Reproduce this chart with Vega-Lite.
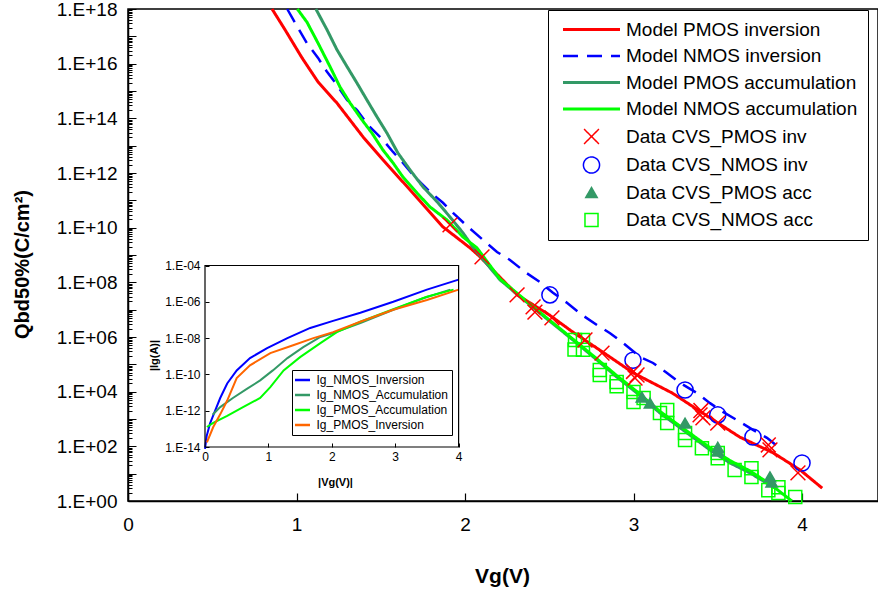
{
  "$schema": "https://vega.github.io/schema/vega-lite/v6.json",
  "width": 750,
  "height": 492,
  "autosize": "none",
  "padding": {"left": 128, "top": 9, "right": 0, "bottom": 90},
  "background": "white",
  "config": {
    "font": "Liberation Sans",
    "view": {"stroke": "black", "strokeWidth": 1.5},
    "axis": {"labelFont": "Liberation Sans", "titleFont": "Liberation Sans", "labelColor": "black", "titleColor": "black", "tickColor": "black", "domainColor": "black", "grid": false},
    "legend": {"labelFont": "Liberation Sans", "labelColor": "black", "strokeColor": "black", "fillColor": "white", "labelLimit": 400}
  },
  "datasets": {
    "models": [
      {"series": "Model PMOS inversion", "vg": 0.855, "q": 1e18},
      {"series": "Model PMOS inversion", "vg": 0.932, "q": 1.74e17},
      {"series": "Model PMOS inversion", "vg": 1.033, "q": 1.62e16},
      {"series": "Model PMOS inversion", "vg": 1.128, "q": 2.14e15},
      {"series": "Model PMOS inversion", "vg": 1.24, "q": 3.63e14},
      {"series": "Model PMOS inversion", "vg": 1.395, "q": 2.09e13},
      {"series": "Model PMOS inversion", "vg": 1.513, "q": 3.02e12},
      {"series": "Model PMOS inversion", "vg": 1.674, "q": 2.4e11},
      {"series": "Model PMOS inversion", "vg": 1.869, "q": 1.07e10},
      {"series": "Model PMOS inversion", "vg": 2.03, "q": 1.82e9},
      {"series": "Model PMOS inversion", "vg": 2.09, "q": 8.51e8},
      {"series": "Model PMOS inversion", "vg": 2.31, "q": 3.47e7},
      {"series": "Model PMOS inversion", "vg": 2.5, "q": 6.46e6},
      {"series": "Model PMOS inversion", "vg": 2.64, "q": 1.51e6},
      {"series": "Model PMOS inversion", "vg": 2.8, "q": 3.31e5},
      {"series": "Model PMOS inversion", "vg": 3.0, "q": 4.79e4},
      {"series": "Model PMOS inversion", "vg": 3.23, "q": 8.91e3},
      {"series": "Model PMOS inversion", "vg": 3.41, "q": 1.66e3},
      {"series": "Model PMOS inversion", "vg": 3.63, "q": 219},
      {"series": "Model PMOS inversion", "vg": 3.83, "q": 57.5},
      {"series": "Model PMOS inversion", "vg": 3.99, "q": 13.5},
      {"series": "Model PMOS inversion", "vg": 4.12, "q": 2.95},

      {"series": "Model NMOS inversion", "vg": 0.945, "q": 1e18},
      {"series": "Model NMOS inversion", "vg": 1.009, "q": 2.04e17},
      {"series": "Model NMOS inversion", "vg": 1.062, "q": 5.62e16},
      {"series": "Model NMOS inversion", "vg": 1.128, "q": 1.62e16},
      {"series": "Model NMOS inversion", "vg": 1.181, "q": 5.01e15},
      {"series": "Model NMOS inversion", "vg": 1.24, "q": 1.66e15},
      {"series": "Model NMOS inversion", "vg": 1.3, "q": 4.68e14},
      {"series": "Model NMOS inversion", "vg": 1.359, "q": 2.0e14},
      {"series": "Model NMOS inversion", "vg": 1.424, "q": 5.75e13},
      {"series": "Model NMOS inversion", "vg": 1.513, "q": 1.62e13},
      {"series": "Model NMOS inversion", "vg": 1.573, "q": 5.89e12},
      {"series": "Model NMOS inversion", "vg": 1.632, "q": 2.34e12},
      {"series": "Model NMOS inversion", "vg": 1.703, "q": 7.08e11},
      {"series": "Model NMOS inversion", "vg": 1.792, "q": 2.04e11},
      {"series": "Model NMOS inversion", "vg": 1.869, "q": 8.13e10},
      {"series": "Model NMOS inversion", "vg": 1.929, "q": 3.47e10},
      {"series": "Model NMOS inversion", "vg": 2.018, "q": 1.07e10},
      {"series": "Model NMOS inversion", "vg": 2.107, "q": 3.55e9},
      {"series": "Model NMOS inversion", "vg": 2.19, "q": 1.29e9},
      {"series": "Model NMOS inversion", "vg": 2.267, "q": 6.61e8},
      {"series": "Model NMOS inversion", "vg": 2.356, "q": 2.4e8},
      {"series": "Model NMOS inversion", "vg": 2.445, "q": 1.02e8},
      {"series": "Model NMOS inversion", "vg": 2.522, "q": 4.17e7},
      {"series": "Model NMOS inversion", "vg": 2.605, "q": 1.78e7},
      {"series": "Model NMOS inversion", "vg": 2.694, "q": 6.46e6},
      {"series": "Model NMOS inversion", "vg": 2.783, "q": 2.75e6},
      {"series": "Model NMOS inversion", "vg": 2.861, "q": 1.38e6},
      {"series": "Model NMOS inversion", "vg": 2.938, "q": 6.03e5},
      {"series": "Model NMOS inversion", "vg": 3.039, "q": 1.86e5},
      {"series": "Model NMOS inversion", "vg": 3.116, "q": 1.12e5},
      {"series": "Model NMOS inversion", "vg": 3.199, "q": 4.79e4},
      {"series": "Model NMOS inversion", "vg": 3.276, "q": 2.09e4},
      {"series": "Model NMOS inversion", "vg": 3.377, "q": 8.91e3},
      {"series": "Model NMOS inversion", "vg": 3.454, "q": 3.8e3},
      {"series": "Model NMOS inversion", "vg": 3.531, "q": 1.82e3},
      {"series": "Model NMOS inversion", "vg": 3.614, "q": 912},
      {"series": "Model NMOS inversion", "vg": 3.709, "q": 398},
      {"series": "Model NMOS inversion", "vg": 3.792, "q": 204},
      {"series": "Model NMOS inversion", "vg": 3.869, "q": 85},

      {"series": "Model PMOS accumulation", "vg": 1.115, "q": 1e18},
      {"series": "Model PMOS accumulation", "vg": 1.181, "q": 1.74e17},
      {"series": "Model PMOS accumulation", "vg": 1.24, "q": 3.24e16},
      {"series": "Model PMOS accumulation", "vg": 1.3, "q": 7.76e15},
      {"series": "Model PMOS accumulation", "vg": 1.359, "q": 1.95e15},
      {"series": "Model PMOS accumulation", "vg": 1.418, "q": 4.68e14},
      {"series": "Model PMOS accumulation", "vg": 1.478, "q": 1.12e14},
      {"series": "Model PMOS accumulation", "vg": 1.537, "q": 2.88e13},
      {"series": "Model PMOS accumulation", "vg": 1.602, "q": 5.37e12},
      {"series": "Model PMOS accumulation", "vg": 1.674, "q": 1.29e12},
      {"series": "Model PMOS accumulation", "vg": 1.751, "q": 3.09e11},
      {"series": "Model PMOS accumulation", "vg": 1.84, "q": 8.13e10},
      {"series": "Model PMOS accumulation", "vg": 1.911, "q": 2.45e10},
      {"series": "Model PMOS accumulation", "vg": 1.988, "q": 6.46e9},
      {"series": "Model PMOS accumulation", "vg": 2.047, "q": 1.95e9},
      {"series": "Model PMOS accumulation", "vg": 2.208, "q": 1.23e8},
      {"series": "Model PMOS accumulation", "vg": 2.445, "q": 7.41e6},
      {"series": "Model PMOS accumulation", "vg": 2.641, "q": 7.76e5},
      {"series": "Model PMOS accumulation", "vg": 2.783, "q": 1.45e5},
      {"series": "Model PMOS accumulation", "vg": 2.902, "q": 3.39e4},
      {"series": "Model PMOS accumulation", "vg": 3.021, "q": 8.91e3},
      {"series": "Model PMOS accumulation", "vg": 3.157, "q": 1.66e3},
      {"series": "Model PMOS accumulation", "vg": 3.294, "q": 398},
      {"series": "Model PMOS accumulation", "vg": 3.454, "q": 74},
      {"series": "Model PMOS accumulation", "vg": 3.573, "q": 24.5},
      {"series": "Model PMOS accumulation", "vg": 3.691, "q": 10.7},
      {"series": "Model PMOS accumulation", "vg": 3.81, "q": 3.8},
      {"series": "Model PMOS accumulation", "vg": 3.84, "q": 3.0},

      {"series": "Model NMOS accumulation", "vg": 1.005, "q": 1e18},
      {"series": "Model NMOS accumulation", "vg": 1.062, "q": 3.31e17},
      {"series": "Model NMOS accumulation", "vg": 1.128, "q": 5.62e16},
      {"series": "Model NMOS accumulation", "vg": 1.199, "q": 7.76e15},
      {"series": "Model NMOS accumulation", "vg": 1.258, "q": 1.41e15},
      {"series": "Model NMOS accumulation", "vg": 1.318, "q": 3.63e14},
      {"series": "Model NMOS accumulation", "vg": 1.389, "q": 8.71e13},
      {"series": "Model NMOS accumulation", "vg": 1.448, "q": 2.88e13},
      {"series": "Model NMOS accumulation", "vg": 1.513, "q": 6.92e12},
      {"series": "Model NMOS accumulation", "vg": 1.573, "q": 2.34e12},
      {"series": "Model NMOS accumulation", "vg": 1.632, "q": 7.08e11},
      {"series": "Model NMOS accumulation", "vg": 1.715, "q": 1.86e11},
      {"series": "Model NMOS accumulation", "vg": 1.792, "q": 5.75e10},
      {"series": "Model NMOS accumulation", "vg": 1.893, "q": 1.91e10},
      {"series": "Model NMOS accumulation", "vg": 1.988, "q": 4.57e9},
      {"series": "Model NMOS accumulation", "vg": 2.071, "q": 1.82e9},
      {"series": "Model NMOS accumulation", "vg": 2.208, "q": 1.32e8},
      {"series": "Model NMOS accumulation", "vg": 2.445, "q": 7.94e6},
      {"series": "Model NMOS accumulation", "vg": 2.641, "q": 8.32e5},
      {"series": "Model NMOS accumulation", "vg": 2.783, "q": 1.58e5},
      {"series": "Model NMOS accumulation", "vg": 2.902, "q": 3.8e4},
      {"series": "Model NMOS accumulation", "vg": 3.021, "q": 1.0e4},
      {"series": "Model NMOS accumulation", "vg": 3.157, "q": 1.9e3},
      {"series": "Model NMOS accumulation", "vg": 3.294, "q": 457},
      {"series": "Model NMOS accumulation", "vg": 3.454, "q": 89},
      {"series": "Model NMOS accumulation", "vg": 3.573, "q": 30},
      {"series": "Model NMOS accumulation", "vg": 3.691, "q": 12.6},
      {"series": "Model NMOS accumulation", "vg": 3.81, "q": 4.17},
      {"series": "Model NMOS accumulation", "vg": 3.94, "q": 1.0}
    ],
    "measured": [
      {"series": "Data CVS_NMOS acc", "vg": 2.653, "q": 7.76e5},
      {"series": "Data CVS_NMOS acc", "vg": 2.7, "q": 7.76e5},
      {"series": "Data CVS_NMOS acc", "vg": 2.65, "q": 3.5e5},
      {"series": "Data CVS_NMOS acc", "vg": 2.7, "q": 3.39e5},
      {"series": "Data CVS_NMOS acc", "vg": 2.8, "q": 6.17e4},
      {"series": "Data CVS_NMOS acc", "vg": 2.8, "q": 4.07e4},
      {"series": "Data CVS_NMOS acc", "vg": 2.9, "q": 2.24e4},
      {"series": "Data CVS_NMOS acc", "vg": 2.9, "q": 1.58e4},
      {"series": "Data CVS_NMOS acc", "vg": 3.0, "q": 9.77e3},
      {"series": "Data CVS_NMOS acc", "vg": 3.0, "q": 4.17e3},
      {"series": "Data CVS_NMOS acc", "vg": 3.06, "q": 5.89e3},
      {"series": "Data CVS_NMOS acc", "vg": 3.157, "q": 1.66e3},
      {"series": "Data CVS_NMOS acc", "vg": 3.2, "q": 2.14e3},
      {"series": "Data CVS_NMOS acc", "vg": 3.2, "q": 708},
      {"series": "Data CVS_NMOS acc", "vg": 3.306, "q": 309},
      {"series": "Data CVS_NMOS acc", "vg": 3.306, "q": 170},
      {"series": "Data CVS_NMOS acc", "vg": 3.406, "q": 85},
      {"series": "Data CVS_NMOS acc", "vg": 3.5, "q": 57.5},
      {"series": "Data CVS_NMOS acc", "vg": 3.5, "q": 37},
      {"series": "Data CVS_NMOS acc", "vg": 3.6, "q": 13.5},
      {"series": "Data CVS_NMOS acc", "vg": 3.7, "q": 15.8},
      {"series": "Data CVS_NMOS acc", "vg": 3.7, "q": 7.6},
      {"series": "Data CVS_NMOS acc", "vg": 3.8, "q": 2.5},
      {"series": "Data CVS_NMOS acc", "vg": 3.86, "q": 3.2},
      {"series": "Data CVS_NMOS acc", "vg": 3.86, "q": 1.95},
      {"series": "Data CVS_NMOS acc", "vg": 3.96, "q": 1.4},

      {"series": "Data CVS_PMOS acc", "vg": 3.05, "q": 6.3e3},
      {"series": "Data CVS_PMOS acc", "vg": 3.098, "q": 3.8e3},
      {"series": "Data CVS_PMOS acc", "vg": 3.306, "q": 708},
      {"series": "Data CVS_PMOS acc", "vg": 3.5, "q": 93},
      {"series": "Data CVS_PMOS acc", "vg": 3.5, "q": 67.6},
      {"series": "Data CVS_PMOS acc", "vg": 3.81, "q": 7.6},
      {"series": "Data CVS_PMOS acc", "vg": 3.82, "q": 4.9},

      {"series": "Data CVS_NMOS inv", "vg": 2.504, "q": 3.47e7},
      {"series": "Data CVS_NMOS inv", "vg": 2.997, "q": 1.41e5},
      {"series": "Data CVS_NMOS inv", "vg": 3.306, "q": 1.15e4},
      {"series": "Data CVS_NMOS inv", "vg": 3.5, "q": 1.41e3},
      {"series": "Data CVS_NMOS inv", "vg": 3.709, "q": 219},
      {"series": "Data CVS_NMOS inv", "vg": 4.0, "q": 24.5},

      {"series": "Data CVS_PMOS inv", "vg": 1.911, "q": 1.26e10},
      {"series": "Data CVS_PMOS inv", "vg": 2.101, "q": 8.51e8},
      {"series": "Data CVS_PMOS inv", "vg": 2.309, "q": 3.47e7},
      {"series": "Data CVS_PMOS inv", "vg": 2.404, "q": 1.26e7},
      {"series": "Data CVS_PMOS inv", "vg": 2.415, "q": 8.13e6},
      {"series": "Data CVS_PMOS inv", "vg": 2.516, "q": 5.01e6},
      {"series": "Data CVS_PMOS inv", "vg": 2.712, "q": 7.76e5},
      {"series": "Data CVS_PMOS inv", "vg": 2.813, "q": 2.57e5},
      {"series": "Data CVS_PMOS inv", "vg": 3.021, "q": 4.07e4},
      {"series": "Data CVS_PMOS inv", "vg": 3.009, "q": 3.16e4},
      {"series": "Data CVS_PMOS inv", "vg": 3.0, "q": 5.5e4},
      {"series": "Data CVS_PMOS inv", "vg": 3.395, "q": 1.41e3},
      {"series": "Data CVS_PMOS inv", "vg": 3.412, "q": 1.1e3},
      {"series": "Data CVS_PMOS inv", "vg": 3.4, "q": 2.04e3},
      {"series": "Data CVS_PMOS inv", "vg": 3.5, "q": 708},
      {"series": "Data CVS_PMOS inv", "vg": 3.81, "q": 74},
      {"series": "Data CVS_PMOS inv", "vg": 3.8, "q": 112},
      {"series": "Data CVS_PMOS inv", "vg": 3.976, "q": 10.7}
    ],
    "gate": [
      {"curve": "Ig_NMOS_Inversion", "vabs": 0.0, "ig": 7.9e-15},
      {"curve": "Ig_NMOS_Inversion", "vabs": 0.026, "ig": 4e-14},
      {"curve": "Ig_NMOS_Inversion", "vabs": 0.08, "ig": 2e-13},
      {"curve": "Ig_NMOS_Inversion", "vabs": 0.16, "ig": 1e-12},
      {"curve": "Ig_NMOS_Inversion", "vabs": 0.24, "ig": 5e-12},
      {"curve": "Ig_NMOS_Inversion", "vabs": 0.35, "ig": 3.16e-11},
      {"curve": "Ig_NMOS_Inversion", "vabs": 0.5, "ig": 1.66e-10},
      {"curve": "Ig_NMOS_Inversion", "vabs": 0.71, "ig": 7.94e-10},
      {"curve": "Ig_NMOS_Inversion", "vabs": 0.98, "ig": 2.82e-9},
      {"curve": "Ig_NMOS_Inversion", "vabs": 1.3, "ig": 1e-8},
      {"curve": "Ig_NMOS_Inversion", "vabs": 1.66, "ig": 3.63e-8},
      {"curve": "Ig_NMOS_Inversion", "vabs": 2.02, "ig": 8.91e-8},
      {"curve": "Ig_NMOS_Inversion", "vabs": 2.45, "ig": 2.51e-7},
      {"curve": "Ig_NMOS_Inversion", "vabs": 2.97, "ig": 1e-6},
      {"curve": "Ig_NMOS_Inversion", "vabs": 3.5, "ig": 4.68e-6},
      {"curve": "Ig_NMOS_Inversion", "vabs": 4.0, "ig": 1.66e-5},

      {"curve": "Ig_NMOS_Accumulation", "vabs": 0.12, "ig": 6.0e-13},
      {"curve": "Ig_NMOS_Accumulation", "vabs": 0.24, "ig": 1.58e-12},
      {"curve": "Ig_NMOS_Accumulation", "vabs": 0.44, "ig": 5.01e-12},
      {"curve": "Ig_NMOS_Accumulation", "vabs": 0.66, "ig": 1.58e-11},
      {"curve": "Ig_NMOS_Accumulation", "vabs": 0.87, "ig": 4.68e-11},
      {"curve": "Ig_NMOS_Accumulation", "vabs": 1.07, "ig": 1.66e-10},
      {"curve": "Ig_NMOS_Accumulation", "vabs": 1.3, "ig": 7.94e-10},
      {"curve": "Ig_NMOS_Accumulation", "vabs": 1.55, "ig": 3.16e-9},
      {"curve": "Ig_NMOS_Accumulation", "vabs": 1.82, "ig": 1.15e-8},
      {"curve": "Ig_NMOS_Accumulation", "vabs": 2.02, "ig": 1.91e-8},
      {"curve": "Ig_NMOS_Accumulation", "vabs": 2.45, "ig": 6.76e-8},
      {"curve": "Ig_NMOS_Accumulation", "vabs": 2.97, "ig": 3.63e-7},
      {"curve": "Ig_NMOS_Accumulation", "vabs": 3.44, "ig": 1.58e-6},
      {"curve": "Ig_NMOS_Accumulation", "vabs": 3.87, "ig": 4.68e-6},

      {"curve": "Ig_PMOS_Accumulation", "vabs": 0.03, "ig": 1.26e-13},
      {"curve": "Ig_PMOS_Accumulation", "vabs": 0.13, "ig": 2.14e-13},
      {"curve": "Ig_PMOS_Accumulation", "vabs": 0.35, "ig": 5.25e-13},
      {"curve": "Ig_PMOS_Accumulation", "vabs": 0.6, "ig": 1.58e-12},
      {"curve": "Ig_PMOS_Accumulation", "vabs": 0.87, "ig": 5.01e-12},
      {"curve": "Ig_PMOS_Accumulation", "vabs": 1.03, "ig": 2e-11},
      {"curve": "Ig_PMOS_Accumulation", "vabs": 1.24, "ig": 1.66e-10},
      {"curve": "Ig_PMOS_Accumulation", "vabs": 1.5, "ig": 8.91e-10},
      {"curve": "Ig_PMOS_Accumulation", "vabs": 1.82, "ig": 5.25e-9},
      {"curve": "Ig_PMOS_Accumulation", "vabs": 2.08, "ig": 2.14e-8},
      {"curve": "Ig_PMOS_Accumulation", "vabs": 2.45, "ig": 7.94e-8},
      {"curve": "Ig_PMOS_Accumulation", "vabs": 2.97, "ig": 3.98e-7},
      {"curve": "Ig_PMOS_Accumulation", "vabs": 3.5, "ig": 1.91e-6},
      {"curve": "Ig_PMOS_Accumulation", "vabs": 3.92, "ig": 4.68e-6},

      {"curve": "Ig_PMOS_Inversion", "vabs": 0.03, "ig": 1.78e-14},
      {"curve": "Ig_PMOS_Inversion", "vabs": 0.13, "ig": 1.26e-13},
      {"curve": "Ig_PMOS_Inversion", "vabs": 0.24, "ig": 6.31e-13},
      {"curve": "Ig_PMOS_Inversion", "vabs": 0.35, "ig": 3.63e-12},
      {"curve": "Ig_PMOS_Inversion", "vabs": 0.5, "ig": 6.31e-11},
      {"curve": "Ig_PMOS_Inversion", "vabs": 0.71, "ig": 3.16e-10},
      {"curve": "Ig_PMOS_Inversion", "vabs": 1.03, "ig": 1.48e-9},
      {"curve": "Ig_PMOS_Inversion", "vabs": 1.39, "ig": 4.07e-9},
      {"curve": "Ig_PMOS_Inversion", "vabs": 1.71, "ig": 1e-8},
      {"curve": "Ig_PMOS_Inversion", "vabs": 2.02, "ig": 2.14e-8},
      {"curve": "Ig_PMOS_Inversion", "vabs": 2.45, "ig": 7.94e-8},
      {"curve": "Ig_PMOS_Inversion", "vabs": 2.97, "ig": 3.63e-7},
      {"curve": "Ig_PMOS_Inversion", "vabs": 3.5, "ig": 1.26e-6},
      {"curve": "Ig_PMOS_Inversion", "vabs": 4.0, "ig": 4.68e-6}
    ]
  },
  "layer": [
    {
      "layer": [
        {
          "data": {"name": "models"},
          "mark": {"type": "line"},
          "encoding": {
            "x": {
              "field": "vg", "type": "quantitative",
              "scale": {"domain": [0, 4.451], "nice": false, "zero": false},
              "axis": {
                "title": "Vg(V)", "orient": "bottom", "values": [0, 1, 2, 3, 4], "format": "d",
                "labelFontSize": 19, "labelPadding": 22, "tickSize": -8, "tickWidth": 1.2, "labelFlush": false,
                "domainWidth": 1.5, "grid": false,
                "titleFontSize": 21, "titleFontWeight": "bold", "titleX": 374, "titleY": 81,
                "titleBaseline": "alphabetic", "titleAlign": "center"
              }
            },
            "y": {
              "field": "q", "type": "quantitative",
              "scale": {"type": "log", "domain": [1, 1e18], "nice": false},
              "axis": {
                "title": "Qbd50%(C/cm²)", "orient": "left",
                "values": [1e0,2e0,3e0,4e0,5e0,6e0,7e0,8e0,9e0,1e1,2e1,3e1,4e1,5e1,6e1,7e1,8e1,9e1,1e2,2e2,3e2,4e2,5e2,6e2,7e2,8e2,9e2,1e3,2e3,3e3,4e3,5e3,6e3,7e3,8e3,9e3,1e4,2e4,3e4,4e4,5e4,6e4,7e4,8e4,9e4,1e5,2e5,3e5,4e5,5e5,6e5,7e5,8e5,9e5,1e6,2e6,3e6,4e6,5e6,6e6,7e6,8e6,9e6,1e7,2e7,3e7,4e7,5e7,6e7,7e7,8e7,9e7,1e8,2e8,3e8,4e8,5e8,6e8,7e8,8e8,9e8,1e9,2e9,3e9,4e9,5e9,6e9,7e9,8e9,9e9,1e10,2e10,3e10,4e10,5e10,6e10,7e10,8e10,9e10,1e11,2e11,3e11,4e11,5e11,6e11,7e11,8e11,9e11,1e12,2e12,3e12,4e12,5e12,6e12,7e12,8e12,9e12,1e13,2e13,3e13,4e13,5e13,6e13,7e13,8e13,9e13,1e14,2e14,3e14,4e14,5e14,6e14,7e14,8e14,9e14,1e15,2e15,3e15,4e15,5e15,6e15,7e15,8e15,9e15,1e16,2e16,3e16,4e16,5e16,6e16,7e16,8e16,9e16,1e17,2e17,3e17,4e17,5e17,6e17,7e17,8e17,9e17,1e18],
                "labelExpr": "abs(log(datum.value)/LN10 - round(log(datum.value)/LN10)) < 0.001 && round(log(datum.value)/LN10) % 2 == 0 ? '1.E+' + (round(log(datum.value)/LN10) < 10 ? '0' : '') + round(log(datum.value)/LN10) : ''",
                "labelOverlap": false, "labelFlush": false,
                "labelFontSize": 19, "labelPadding": 19,
                "tickSize": {"condition": {"test": "abs(log(datum.value)/LN10 - round(log(datum.value)/LN10)) < 0.001", "value": -8}, "value": -4},
                "tickWidth": 1, "domainWidth": 1.5, "grid": false,
                "titleFontSize": 20, "titleFontWeight": "bold", "titleAngle": -90,
                "titleX": -100, "titleY": 255, "titleBaseline": "alphabetic", "titleAlign": "center"
              }
            },
            "color": {
              "field": "series", "type": "nominal",
              "scale": {
                "domain": ["Model PMOS inversion", "Model NMOS inversion", "Model PMOS accumulation", "Model NMOS accumulation", "Data CVS_PMOS inv", "Data CVS_NMOS inv", "Data CVS_PMOS acc", "Data CVS_NMOS acc"],
                "range": ["#ff0000", "#0000ff", "#339966", "#00ff00", "#ff0000", "#0000ff", "#339966", "#00ff00"]
              },
              "legend": {"title": null, "orient": "none", "legendX": 420, "legendY": 1, "padding": 10, "rowPadding": 6.5, "labelOffset": 25, "symbolOffset": 24, "labelFontSize": 19}
            },
            "strokeDash": {
              "field": "series", "type": "nominal",
              "scale": {
                "domain": ["Model PMOS inversion", "Model NMOS inversion", "Model PMOS accumulation", "Model NMOS accumulation", "Data CVS_PMOS inv", "Data CVS_NMOS inv", "Data CVS_PMOS acc", "Data CVS_NMOS acc"],
                "range": [[1, 0], [15, 9], [1, 0], [1, 0], [1, 0], [1, 0], [1, 0], [1, 0]]
              },
              "legend": {"title": null, "orient": "none", "legendX": 420, "legendY": 1, "padding": 10, "rowPadding": 6.5, "labelOffset": 25, "symbolOffset": 24, "labelFontSize": 19}
            },
            "strokeWidth": {
              "field": "series", "type": "nominal",
              "scale": {
                "type": "ordinal",
                "domain": ["Model PMOS inversion", "Model NMOS inversion", "Model PMOS accumulation", "Model NMOS accumulation", "Data CVS_PMOS inv", "Data CVS_NMOS inv", "Data CVS_PMOS acc", "Data CVS_NMOS acc"],
                "range": [3, 2.5, 3, 3, 1.5, 1.5, 1.5, 1.5]
              },
              "legend": {"title": null, "orient": "none", "legendX": 420, "legendY": 1, "padding": 10, "rowPadding": 6.5, "labelOffset": 25, "symbolOffset": 24, "labelFontSize": 19}
            }
          }
        },
        {
          "data": {"name": "measured"},
          "mark": {"type": "point", "filled": false, "opacity": 1},
          "encoding": {
            "x": {"field": "vg", "type": "quantitative"},
            "y": {"field": "q", "type": "quantitative"},
            "color": {
              "field": "series", "type": "nominal",
              "scale": {
                "domain": ["Model PMOS inversion", "Model NMOS inversion", "Model PMOS accumulation", "Model NMOS accumulation", "Data CVS_PMOS inv", "Data CVS_NMOS inv", "Data CVS_PMOS acc", "Data CVS_NMOS acc"],
                "range": ["#ff0000", "#0000ff", "#339966", "#00ff00", "#ff0000", "#0000ff", "#339966", "#00ff00"]
              },
              "legend": {"title": null, "orient": "none", "legendX": 420, "legendY": 1, "padding": 10, "rowPadding": 6.5, "labelOffset": 25, "symbolOffset": 24, "labelFontSize": 19}
            },
            "shape": {
              "field": "series", "type": "nominal",
              "scale": {
                "domain": ["Model PMOS inversion", "Model NMOS inversion", "Model PMOS accumulation", "Model NMOS accumulation", "Data CVS_PMOS inv", "Data CVS_NMOS inv", "Data CVS_PMOS acc", "Data CVS_NMOS acc"],
                "range": ["M-5.7,0H5.7", "M-5.7,0H5.7", "M-5.7,0H5.7", "M-5.7,0H5.7", "M-1,-1L1,1M-1,1L1,-1", "circle", "triangle-up", "square"]
              },
              "legend": {"title": null, "orient": "none", "legendX": 420, "legendY": 1, "padding": 10, "rowPadding": 6.5, "labelOffset": 25, "symbolOffset": 24, "labelFontSize": 19}
            },
            "size": {
              "field": "series", "type": "nominal",
              "scale": {
                "type": "ordinal",
                "domain": ["Model PMOS inversion", "Model NMOS inversion", "Model PMOS accumulation", "Model NMOS accumulation", "Data CVS_PMOS inv", "Data CVS_NMOS inv", "Data CVS_PMOS acc", "Data CVS_NMOS acc"],
                "range": [100, 100, 100, 100, 220, 260, 130, 170]
              },
              "legend": {"title": null, "orient": "none", "legendX": 420, "legendY": 1, "padding": 10, "rowPadding": 6.5, "labelOffset": 25, "symbolOffset": 24, "labelFontSize": 19}
            },
            "fill": {
              "field": "series", "type": "nominal",
              "scale": {
                "domain": ["Model PMOS inversion", "Model NMOS inversion", "Model PMOS accumulation", "Model NMOS accumulation", "Data CVS_PMOS inv", "Data CVS_NMOS inv", "Data CVS_PMOS acc", "Data CVS_NMOS acc"],
                "range": ["transparent", "transparent", "transparent", "transparent", "transparent", "transparent", "#339966", "transparent"]
              },
              "legend": {"title": null, "orient": "none", "legendX": 420, "legendY": 1, "padding": 10, "rowPadding": 6.5, "labelOffset": 25, "symbolOffset": 24, "labelFontSize": 19}
            },
            "strokeWidth": {
              "field": "series", "type": "nominal",
              "scale": {
                "type": "ordinal",
                "domain": ["Model PMOS inversion", "Model NMOS inversion", "Model PMOS accumulation", "Model NMOS accumulation", "Data CVS_PMOS inv", "Data CVS_NMOS inv", "Data CVS_PMOS acc", "Data CVS_NMOS acc"],
                "range": [3, 2.5, 3, 3, 1.5, 1.5, 1.5, 1.5]
              },
              "legend": {"title": null, "orient": "none", "legendX": 420, "legendY": 1, "padding": 10, "rowPadding": 6.5, "labelOffset": 25, "symbolOffset": 24, "labelFontSize": 19}
            }
          }
        }
      ]
    },
    {
      "layer": [
        {
          "data": {"name": "gate"},
          "mark": {"type": "line", "strokeWidth": 2},
          "encoding": {
            "x": {
              "field": "vabs", "type": "quantitative",
              "scale": {"domain": [-1.2145, 10.615], "nice": false, "zero": false},
              "axis": {
                "orient": "bottom", "offset": -54, "values": [0, 1, 2, 3, 4], "format": "d",
                "domain": false, "labelFontSize": 12, "labelPadding": 8, "tickSize": -4, "labelFlush": false, "grid": false,
                "title": "|Vg(V)|", "titleFontSize": 11, "titleFontWeight": "bold", "titleX": 207, "titleY": 38,
                "titleBaseline": "alphabetic", "titleAlign": "center"
              }
            },
            "y": {
              "field": "ig", "type": "quantitative",
              "scale": {"type": "log", "domain": [1.06e-17, 1.355e10], "nice": false},
              "axis": {
                "orient": "left", "offset": -77, "values": [1e-14, 1e-12, 1e-10, 1e-8, 1e-6, 1e-4],
                "labelExpr": "'1.E-' + (round(-log(datum.value)/LN10) < 10 ? '0' : '') + round(-log(datum.value)/LN10)",
                "domain": false, "labelFontSize": 12, "labelPadding": 9, "tickSize": -4, "labelFlush": false,
                "labelOverlap": false, "grid": false,
                "title": "|Ig(A)|", "titleFontSize": 11, "titleFontWeight": "bold", "titleAngle": -90,
                "titleX": -48, "titleY": 346, "titleBaseline": "alphabetic", "titleAlign": "center"
              }
            },
            "stroke": {
              "field": "curve", "type": "nominal",
              "scale": {
                "domain": ["Ig_NMOS_Inversion", "Ig_NMOS_Accumulation", "Ig_PMOS_Accumulation", "Ig_PMOS_Inversion"],
                "range": ["#0000ff", "#339966", "#00ff00", "#ff6600"]
              },
              "legend": {
                "title": null, "orient": "none", "legendX": 164, "legendY": 361,
                "padding": 4, "rowPadding": 3, "labelOffset": 8, "symbolOffset": 0.5, "labelFontSize": 12,
                "symbolType": "M-3,0H3", "symbolSize": 25, "symbolStrokeWidth": 2.5
              }
            }
          }
        },
        {
          "data": {"values": [{}]},
          "mark": {"type": "rect", "fill": "transparent", "stroke": "black", "strokeWidth": 1.2},
          "encoding": {
            "x": {"datum": 0, "type": "quantitative"},
            "x2": {"datum": 4},
            "y": {"datum": 1e-14, "type": "quantitative"},
            "y2": {"datum": 1e-4}
          }
        }
      ]
    }
  ],
  "resolve": {"scale": {"x": "independent", "y": "independent"}}
}
